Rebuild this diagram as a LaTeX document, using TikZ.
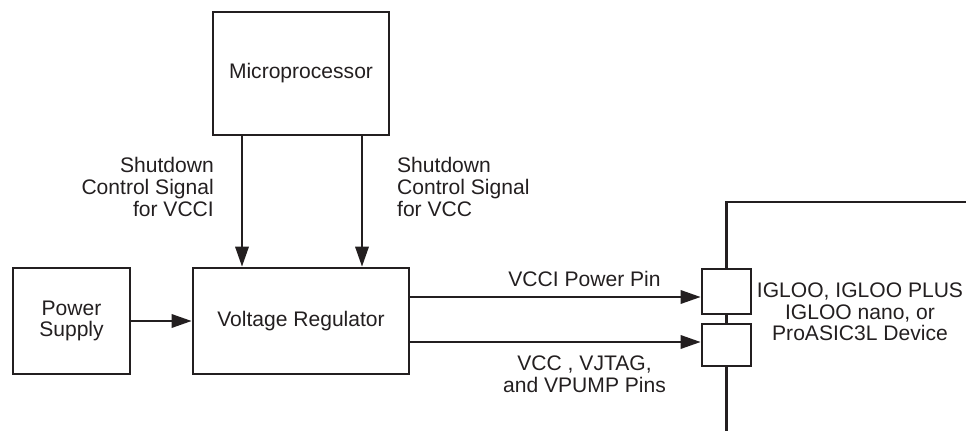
\documentclass[tikz,border=0pt]{standalone}
\usepackage{fontspec}
\setmainfont{Liberation Sans}
\usetikzlibrary{arrows.meta}

\definecolor{ink}{RGB}{35,31,32}
\tikzset{every picture/.style={line width=1.75pt}}

\begin{document}
\begin{tikzpicture}[x=0.75pt,y=0.75pt,yscale=-1,xscale=1,
    blk/.style={draw=ink, line width=2pt, align=center, inner sep=0pt},
    lbl/.style={text=ink, inner sep=0.75pt, font=\fontsize{15.8}{16.3}\selectfont},
    arr/.style={draw=ink, -{Triangle[length=15pt,width=10pt]}}]
    \useasboundingbox (0,0) rectangle (966,431);

    %Shape: Rectangle [microprocessor]
    \node [blk, lbl, minimum width=132pt, minimum height=92.25pt] (micro) at (301,73.5) {Microprocessor};
    %Shape: Rectangle [voltage regulator]
    \node [blk, lbl, minimum width=162pt, minimum height=79.5pt] (vreg) at (301,321) {Voltage Regulator};
    %Shape: Rectangle [power supply]
    \node [blk, lbl, minimum width=87.75pt, minimum height=79.5pt] (psu) at (71.5,321) {Power\\Supply};
    %Shape: Rectangle [pins]
    \node [blk, minimum width=36.75pt, minimum height=33.75pt] (pinvcci) at (726.5,291.5) {};
    \node [blk, minimum width=36.75pt, minimum height=31.5pt] (pinvcc) at (726.5,345) {};
    \coordinate (devtop) at (726.5,202);
    \coordinate (devcorner) at (966,202);
    \coordinate (devbot) at (726.5,431);

    %Straight Lines [shutdown signals]
    \draw [arr] (242,0 |- micro.south) -- (242,0 |- vreg.north);
    \draw [arr] (362,0 |- micro.south) -- (362,0 |- vreg.north);
    %Straight Lines [supply]
    \draw [arr] (psu.east) -- (vreg.west);
    %Straight Lines [power pins]
    \draw [arr] (vreg.east |- 0,297) -- (pinvcci.west |- 0,297) node [lbl, pos=0.6, above=6pt] {VCCI Power Pin};
    \draw [arr] (vreg.east |- 0,342) -- (pinvcc.west |- 0,342) node [lbl, pos=0.6, below=9pt, align=center] {VCC , VJTAG,\\and VPUMP Pins};
    %Straight Lines [device outline]
    \draw [ink] (devcorner) -- (devtop) -- (pinvcci.north);
    \draw [ink] (pinvcci.south) -- (pinvcc.north);
    \draw [ink] (pinvcc.south) -- (devbot);

    % Text Node
    \node [lbl, anchor=east, align=right] (shutvcci) at (216,187) {Shutdown\\Control Signal\\for VCCI};
    % Text Node
    \node [lbl, anchor=west, align=left] (shutvcc) at (395,187) {Shutdown\\Control Signal\\for VCC};
    % Text Node
    \node [lbl, align=center] (device) at (860,312) {IGLOO, IGLOO PLUS\\IGLOO nano, or\\ProASIC3L Device};

\end{tikzpicture}
\end{document}
